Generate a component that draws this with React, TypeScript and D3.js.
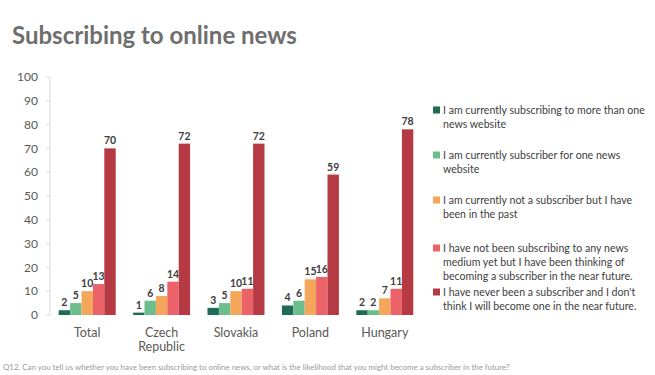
import React from "react";
import * as d3 from "d3";

const categories = ["Total", "Czech Republic", "Slovakia", "Poland", "Hungary"];
const seriesNames = [
  "I am currently subscribing to more than one news website",
  "I am currently subscriber for one news website",
  "I am currently not a subscriber but I have been in the past",
  "I have not been subscribing to any news medium yet but I have been thinking of becoming a subscriber in the near future.",
  "I have never been a subscriber and I don't think I will become one in the near future.",
];
const legendLines = [
  ["I am currently subscribing to more than one", "news website"],
  ["I am currently subscriber for one news", "website"],
  ["I am currently not a subscriber but I have", "been in the past"],
  ["I have not been subscribing to any news", "medium yet but I have been thinking of", "becoming a subscriber in the near future."],
  ["I have never been a subscriber and I don't", "think I will become one in the near future."],
];
const moreThanOne = [2, 1, 3, 4, 2];
const oneSite = [5, 6, 5, 6, 2];
const pastSubscriber = [10, 8, 10, 15, 7];
const thinking = [13, 14, 11, 16, 11];
const never = [70, 72, 72, 59, 78];
const series = [moreThanOne, oneSite, pastSubscriber, thinking, never];
const colors = ["#1f6b55", "#6cbf8c", "#f4a75a", "#eb6268", "#b53a43"];
const yTicks = [0, 10, 20, 30, 40, 50, 60, 70, 80, 90, 100];
const title = "Subscribing to online news";
const footnote =
  "Q12. Can you tell us whether you have been subscribing to online news, or what is the likelihood that you might become a subscriber in the future?";

const FONT = "Lato, 'Open Sans', sans-serif";

export default function App() {
  const W = 655;
  const H = 375;
  const y = d3.scaleLinear().domain([0, 100]).range([315, 77]);
  const x0 = d3.scaleBand<string>().domain(categories).range([50, 422]).paddingInner(0.234).paddingOuter(0.117);
  const x1 = d3
    .scaleBand<number>()
    .domain(d3.range(series.length))
    .range([0, x0.bandwidth()]);
  const legendStarts = [110, 155, 200, 248, 292];

  return (
    <div style={{ position: "absolute", left: 0, top: 0 }}>
      <svg width={W} height={H} style={{ display: "block", background: "#fff" }}>
        <text x={12} y={44} fontFamily={FONT} fontWeight={700} fontSize={24} fill="#6e6e6e">
          {title}
        </text>
        {/* y axis */}
        <line x1={50} x2={50} y1={y(100)} y2={y(0)} stroke="#d9d9d9" />
        {yTicks.map((t) => (
          <g key={t}>
            <line x1={46} x2={50} y1={y(t)} y2={y(t)} stroke="#d9d9d9" />
            <text x={38} y={y(t)} dy="0.35em" textAnchor="end" fontFamily={FONT} fontSize={12} fill="#595959">
              {t}
            </text>
          </g>
        ))}
        {/* bars */}
        {categories.map((c, ci) => (
          <g key={c} transform={`translate(${x0(c)},0)`}>
            {series.map((s, si) => (
              <g key={si}>
                <rect
                  x={x1(si)}
                  y={y(s[ci])}
                  width={x1.bandwidth()}
                  height={y(0) - y(s[ci])}
                  fill={colors[si]}
                />
                <text
                  x={(x1(si) as number) + x1.bandwidth() / 2}
                  y={y(s[ci]) - 4}
                  textAnchor="middle"
                  fontFamily={FONT}
                  fontWeight={700}
                  fontSize={10.5}
                  fill="#404040"
                >
                  {s[ci]}
                </text>
              </g>
            ))}
          </g>
        ))}
        {/* category labels */}
        {categories.map((c) => {
          const words = c === "Czech Republic" ? ["Czech", "Republic"] : [c];
          return (
            <text
              key={c}
              x={(x0(c) as number) + x0.bandwidth() / 2}
              y={337}
              textAnchor="middle"
              fontFamily={FONT}
              fontSize={12.5}
              fill="#595959"
            >
              {words.map((w, i) => (
                <tspan key={i} x={(x0(c) as number) + x0.bandwidth() / 2} dy={i === 0 ? 0 : 14}>
                  {w}
                </tspan>
              ))}
            </text>
          );
        })}
        {/* legend */}
        {seriesNames.map((n, i) => (
          <g key={n}>
            <rect x={433} y={legendStarts[i] - 3.5} width={7} height={7} fill={colors[i]} />
            <text x={443} y={legendStarts[i]} fontFamily={FONT} fontSize={10.6} fill="#404040">
              {legendLines[i].map((l, j) => (
                <tspan key={j} x={443} dy={j === 0 ? "0.35em" : 14}>
                  {l}
                </tspan>
              ))}
            </text>
          </g>
        ))}
        <text x={3} y={370} fontFamily={FONT} fontSize={7.9} fill="#9a9a9a">
          {footnote}
        </text>
      </svg>
    </div>
  );
}
